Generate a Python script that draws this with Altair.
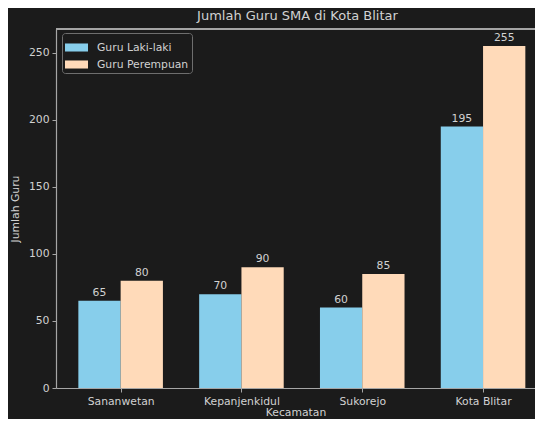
import json
import altair as alt
import pandas as pd

categories = ["Sananwetan", "Kepanjenkidul", "Sukorejo", "Kota Blitar"]
guru_laki = [65, 70, 60, 195]
guru_perempuan = [80, 90, 85, 255]
series_names = ["Guru Laki-laki", "Guru Perempuan"]
series_colors = ["#87CEEB", "#FFDAB9"]
y_ticks = [0, 50, 100, 150, 200, 250]

BAR_W = 0.35
rows = []
for i, cat in enumerate(categories):
    for s, vals in enumerate([guru_laki, guru_perempuan]):
        start = i - BAR_W if s == 0 else i
        rows.append({
            "kecamatan": cat,
            "idx": i,
            "seri": series_names[s],
            "jumlah": vals[i],
            "x0": start,
            "x1": start + BAR_W,
            "xc": start + BAR_W / 2,
        })
df = pd.DataFrame(rows)

BG = "#1b1b1b"
TXT = "#d2d2d2"
SPINE = "#a6a6a6"
FONT = "DejaVu Sans"
W, H = 479, 359

label_expr = json.dumps(categories) + "[datum.value]"

x_scale = alt.Scale(domain=[-0.535, 3.43], nice=False, zero=False)
y_scale = alt.Scale(domain=[0, 267.75], nice=False)

base = alt.Chart(df)

bars = base.mark_bar().encode(
    x=alt.X("x0:Q", scale=x_scale,
            axis=alt.Axis(values=[0, 1, 2, 3], labelExpr=label_expr,
                          title="Kecamatan", titlePadding=1)),
    x2="x1:Q",
    y=alt.Y("jumlah:Q", scale=y_scale,
            axis=alt.Axis(values=y_ticks, title="Jumlah Guru", titlePadding=8)),
    y2=alt.datum(0),
    color=alt.Color("seri:N",
                    scale=alt.Scale(domain=series_names, range=series_colors),
                    legend=alt.Legend(
                        title=None, orient="none", legendX=6, legendY=4,
                        direction="vertical",
                        symbolType="M-1,-0.35L1,-0.35L1,0.35L-1,0.35Z",
                        symbolSize=529, symbolStrokeWidth=0,
                        symbolOpacity=1,
                        labelFontSize=10.8, labelColor=TXT, labelFont=FONT,
                        labelOffset=9, rowPadding=0,
                        padding=3, cornerRadius=3,
                        strokeColor="#6e6e6e", fillColor=BG,
                    )),
)

labels = base.mark_text(baseline="bottom", dy=-3, fontSize=10.8,
                        font=FONT, color=TXT).encode(
    x=alt.X("xc:Q", scale=x_scale),
    y=alt.Y("jumlah:Q", scale=y_scale),
    text="jumlah:Q",
)

top_spine = alt.Chart(df).mark_rule(color=SPINE, strokeWidth=1.2).encode(
    x=alt.value(0), x2=alt.value(W), y=alt.value(0)
)

chart = alt.layer(bars, labels, top_spine).properties(
    width=W, height=H,
    title=alt.TitleParams("Jumlah Guru SMA di Kota Blitar", fontSize=13,
                          font=FONT, color=TXT, fontWeight="normal",
                          anchor="middle", offset=5, dx=2),
    autosize=alt.AutoSizeParams(type="none"),
    padding={"left": 48, "top": 21, "right": 0, "bottom": 31},
    background=BG,
).configure_view(
    strokeWidth=0
).configure_axis(
    grid=False,
    domainColor=SPINE, domainWidth=1.2,
    tickColor=SPINE, tickSize=4, tickWidth=1,
    labelColor=TXT, labelFont=FONT, labelFontSize=10.8, labelPadding=3,
    titleColor=TXT, titleFont=FONT, titleFontSize=10.8, titleFontWeight="normal",
)

chart.save("out.html", embed_options={"renderer": "svg", "actions": False})
